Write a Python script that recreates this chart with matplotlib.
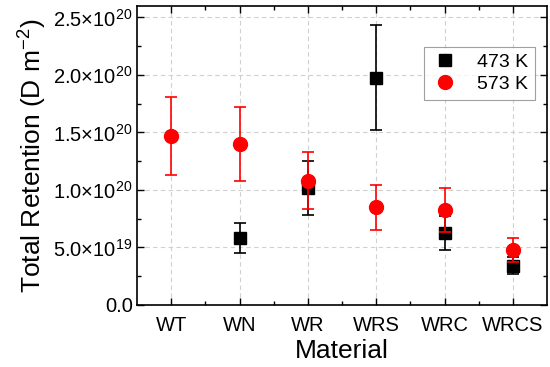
import matplotlib
matplotlib.use("Agg")
import matplotlib.pyplot as plt
from matplotlib.ticker import MultipleLocator, FixedLocator
from matplotlib.lines import Line2D

plt.rcParams['font.family'] = ['Liberation Sans', 'DejaVu Sans']
plt.rcParams['mathtext.fontset'] = 'custom'
plt.rcParams['mathtext.rm'] = 'Liberation Sans'
plt.rcParams['mathtext.it'] = 'Liberation Sans'
plt.rcParams['mathtext.default'] = 'regular'

materials = ['WT', 'WN', 'WR', 'WRS', 'WRC', 'WRCS']
x473 = [2, 3, 4, 5, 6]
val473 = [0.58e20, 1.015e20, 1.975e20, 0.625e20, 0.34e20]
err473 = [0.13e20, 0.235e20, 0.455e20, 0.145e20, 0.075e20]
x573 = [1, 2, 3, 4, 5, 6]
val573 = [1.47e20, 1.40e20, 1.08e20, 0.85e20, 0.825e20, 0.48e20]
err573 = [0.337e20, 0.322e20, 0.25e20, 0.195e20, 0.19e20, 0.105e20]
ytick_labels = ['0.0', '5.0×10$^{19}$', '1.0×10$^{20}$', '1.5×10$^{20}$', '2.0×10$^{20}$', '2.5×10$^{20}$']

fig = plt.figure(figsize=(5.5, 3.67), dpi=100)
ax = fig.add_axes([0.249, 0.169, 0.746, 0.815])

ax.errorbar(x473, val473, yerr=err473, fmt='s', color='black', ecolor='black',
            markersize=9, capsize=4, elinewidth=1.2, capthick=1.2, zorder=3)
ax.errorbar(x573, val573, yerr=err573, fmt='o', color='red', ecolor='red',
            markersize=10, capsize=4, elinewidth=1.2, capthick=1.2, zorder=4)

ax.set_xlim(0.5, 6.5)
ax.set_ylim(0, 2.6e20)
ax.set_xticks(range(1, 7))
ax.set_xticklabels(materials, fontsize=14.5)
ax.xaxis.set_minor_locator(FixedLocator([1.5, 2.5, 3.5, 4.5, 5.5]))
yt = [0, 0.5e20, 1.0e20, 1.5e20, 2.0e20, 2.5e20]
ax.set_yticks(yt)
ax.set_yticklabels(ytick_labels, fontsize=14.5)
ax.yaxis.set_minor_locator(MultipleLocator(0.25e20))

ax.tick_params(which='both', direction='in', top=True, right=True)
ax.tick_params(which='major', length=5, width=1)
ax.tick_params(which='minor', length=3, width=1)
ax.tick_params(axis='x', which='major', pad=8)
ax.tick_params(axis='y', which='major', pad=3)
for s in ax.spines.values():
    s.set_linewidth(1.2)

ax.grid(True, which='major', linestyle=(0, (4, 3)), color='#d0d0d0', linewidth=0.8)
ax.set_axisbelow(True)

ax.set_xlabel('Material', fontsize=19, labelpad=3)
ax.set_ylabel('Total Retention (D m$^{-2}$)', fontsize=19, labelpad=3)

handles = [Line2D([], [], marker='s', color='black', linestyle='none', markersize=9),
           Line2D([], [], marker='o', color='red', linestyle='none', markersize=10)]
leg = ax.legend(handles, ['473 K', '573 K'], loc='upper right', bbox_to_anchor=(0.971, 0.863),
                fontsize=14, frameon=True, fancybox=False, edgecolor='#888888',
                handletextpad=0.9, borderpad=0.35, labelspacing=0.2, handlelength=1.5,
                borderaxespad=0)
leg.get_frame().set_linewidth(0.8)

fig.savefig('out.png', dpi=100)
